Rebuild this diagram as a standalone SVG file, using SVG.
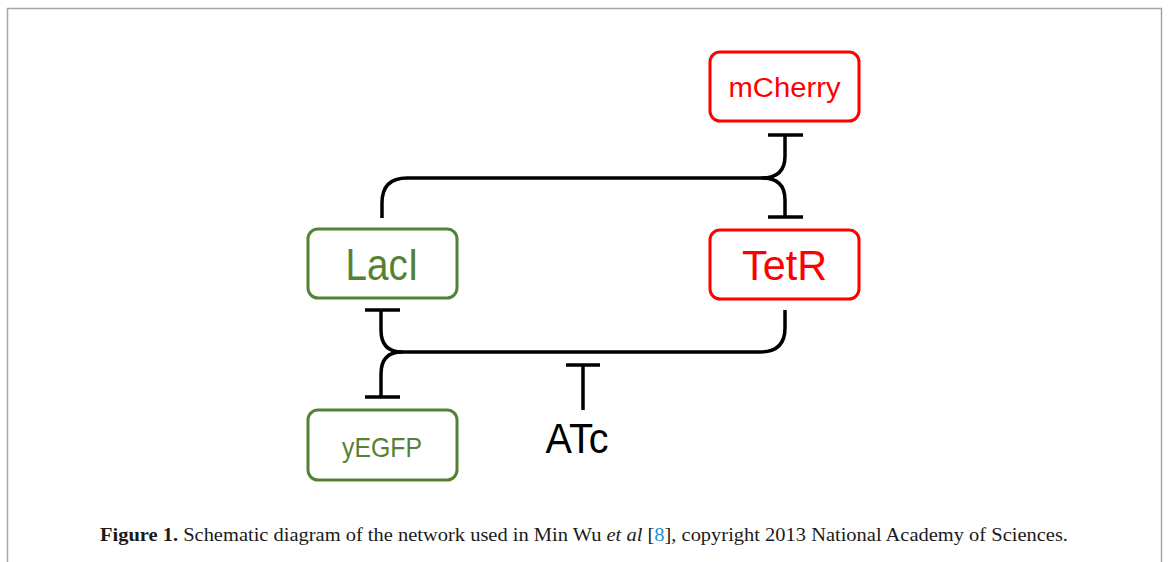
<svg xmlns="http://www.w3.org/2000/svg" width="1168" height="562" viewBox="0 0 1168 562">
<style>
.frame{fill:none;stroke:#a6a6a6;stroke-width:1.5}
.g rect{fill:#fff;stroke:#548235;stroke-width:3}
.r rect{fill:#fff;stroke:#ff0000;stroke-width:3}
.g text{fill:#548235}
.r text{fill:#ff0000}
text{font-family:"Liberation Sans",Arial,sans-serif;text-anchor:middle}
.edge{fill:none;stroke:#000;stroke-width:3.5}
.cap{font-family:"Liberation Serif","Times New Roman",serif;font-size:19px;text-anchor:start;fill:#1a1a1a}
</style>
<rect x="0" y="0" width="1168" height="562" fill="#fff"/>
<path class="frame" d="M7.5 562 V8.5 H1161.5 V562"/>
<g id="mCherry" class="r">
<rect x="710" y="52" width="149" height="69" rx="10"/>
<text x="784.5" y="97" font-size="27" textLength="112" lengthAdjust="spacingAndGlyphs">mCherry</text>
</g>
<g id="TetR" class="r">
<rect x="710" y="230" width="149" height="69" rx="10"/>
<text x="784.5" y="280" font-size="42" textLength="85" lengthAdjust="spacingAndGlyphs">TetR</text>
</g>
<g id="LacI" class="g">
<rect x="308" y="229" width="149" height="69" rx="10"/>
<text x="382" y="280" font-size="44" textLength="73" lengthAdjust="spacingAndGlyphs">LacI</text>
</g>
<g id="yEGFP" class="g">
<rect x="308" y="410" width="149" height="70" rx="10"/>
<text x="382" y="457" font-size="28" textLength="80" lengthAdjust="spacingAndGlyphs">yEGFP</text>
</g>
<g id="ATc">
<text x="577" y="453" font-size="42" textLength="63" lengthAdjust="spacingAndGlyphs">ATc</text>
</g>
<g id="connectors">
<path class="edge" d="M382 218 V203 Q382 178 407 178 H762"/>
<path class="edge" d="M762 178 Q785 178 785 156 V135 M768 135 H803"/>
<path class="edge" d="M762 178 Q785 178 785 200 V217 M768 217 H803"/>
<path class="edge" d="M785 310 V328 Q785 352 760 352 H402"/>
<path class="edge" d="M402 352 Q381 352 381 330 V310 M365 310 H400"/>
<path class="edge" d="M402 352 Q381 352 381 374 V397 M365 397 H400"/>
<path class="edge" d="M583 410 V365 M566 365 H600"/>
</g>
<text class="cap" x="100" y="541" textLength="968" lengthAdjust="spacingAndGlyphs"><tspan font-weight="bold">Figure 1.</tspan>  Schematic diagram of the network used in Min Wu <tspan font-style="italic">et al</tspan> [<tspan fill="#1a8fd6">8</tspan>], copyright 2013 National Academy of Sciences.</text>
</svg>
